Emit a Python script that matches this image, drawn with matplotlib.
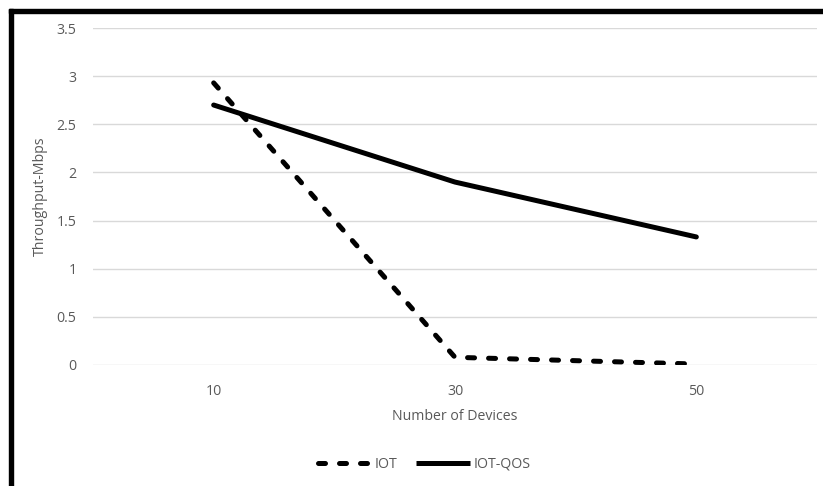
import matplotlib
matplotlib.use("Agg")
import matplotlib.pyplot as plt
from matplotlib.patches import Rectangle
from matplotlib.lines import Line2D

devices = ["10", "30", "50"]
iot = [2.93, 0.08, 0.01]
iot_qos = [2.70, 1.90, 1.33]
y_ticks = [0, 0.5, 1, 1.5, 2, 2.5, 3, 3.5]
y_tick_labels = ["0", "0.5", "1", "1.5", "2", "2.5", "3", "3.5"]

W, H = 823, 486
FS = 10.2
plt.rcParams["font.family"] = ["Open Sans", "DejaVu Sans"]

fig = plt.figure(figsize=(W / 100, H / 100), dpi=100)
fig.patch.set_facecolor("white")

ax = fig.add_axes([93 / W, 1 - 365 / H, (817 - 93) / W, (365 - 28) / H])
x = [i + 0.5 for i in range(len(devices))]

ax.plot(x, iot, color="black", lw=3.6, dashes=(1.4, 2.8),
        dash_capstyle="round", solid_capstyle="round", zorder=3)
ax.plot(x, iot_qos, color="black", lw=3.6, solid_capstyle="round",
        solid_joinstyle="round", zorder=3)

ax.set_xlim(0, len(devices))
ax.set_ylim(0, 3.5)
ax.set_yticks(y_ticks)
ax.set_yticklabels(y_tick_labels)
ax.set_xticks(x)
ax.set_xticklabels(devices)
ax.grid(axis="y", color="#d9d9d9", lw=1.0)
ax.set_axisbelow(True)
for s in ax.spines.values():
    s.set_visible(False)
ax.tick_params(length=0, colors="#595959", labelsize=FS)
ax.tick_params(axis="y", pad=12)
ax.tick_params(axis="x", pad=14)
ax.set_xlabel("Number of Devices", color="#595959", fontsize=FS, labelpad=7)
ax.set_ylabel("Throughput-Mbps", color="#595959", fontsize=FS, labelpad=6)

handles = [
    Line2D([], [], color="black", lw=3.6, dashes=(1.4, 2.8), dash_capstyle="round"),
    Line2D([], [], color="black", lw=3.6, solid_capstyle="butt"),
]
fig.legend(handles, ["IOT", "IOT-QOS"], loc="center", bbox_to_anchor=(424 / W, 1 - 464 / H),
           ncol=2, frameon=False, fontsize=FS, handlelength=3.8, handletextpad=0.25,
           columnspacing=1.3, labelcolor="#595959")

# frame bands along the top and left edges
fig.patches.append(Rectangle((9 / W, 0), 4 / W, 1 - 9 / H, transform=fig.transFigure,
                             color="black", zorder=10))
fig.patches.append(Rectangle((9 / W, 1 - 13 / H), 1 - 9 / W, 4 / H, transform=fig.transFigure,
                             color="black", zorder=10))

fig.savefig("out.png", dpi=100, facecolor="white")
